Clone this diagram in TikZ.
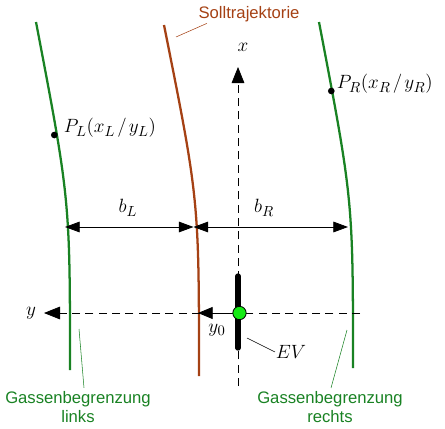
\documentclass[tikz,border=0pt]{standalone}
\usepackage{fontspec}
\setmainfont{Liberation Sans}
\usetikzlibrary{arrows.meta}

\definecolor{lanegreen}{RGB}{25,130,35}
\definecolor{pathbrown}{RGB}{165,65,20}
\definecolor{evgreen}{RGB}{20,235,20}

\tikzset{
  boundary/.style={lanegreen, line width=1.7pt},
  trajectory/.style={pathbrown, line width=1.7pt},
  axisline/.style={dash pattern=on 6pt off 4pt, line width=0.6pt, -{Triangle[length=12pt,width=9.5pt]}},
  dimline/.style={line width=0.6pt, {Triangle[length=11pt,width=8pt]}-{Triangle[length=11pt,width=8pt]}},
  leader/.style={line width=0.4pt},
  pointdot/.style={circle, fill=black, inner sep=0pt, minimum size=5pt},
  mathlabel/.style={inner sep=0.5pt, font=\fontsize{15.5}{18}\selectfont},
  textlabel/.style={align=center, inner sep=1pt, font=\fontsize{12.5}{14}\selectfont},
}

\begin{document}
\begin{tikzpicture}[x=0.75pt, y=-0.75pt]
    \useasboundingbox (0,0) rectangle (445,428);
    % Draw the lane boundaries and the reference path
    \draw[boundary] (36,22) .. controls (70,200) .. (70,370);
    \draw[trajectory] (164,25) .. controls (199,200) .. (199,376);
    \draw[boundary] (319,22) .. controls (353,200) .. (353,368);
    % Points on the boundaries
    \node[pointdot] (PL) at (54.3,135) {};
    \node[mathlabel, anchor=west] (PLlabel) at (63,128) {$P_L(x_L\mkern2mu/\mkern2mu y_L)$};
    \node[pointdot] (PR) at (331.3,91) {};
    \node[mathlabel, anchor=west] (PRlabel) at (336,84) {$P_R(x_R\mkern2mu/\mkern2mu y_R)$};
    % Draw the axes
    \coordinate (xbot) at (238,386);
    \coordinate (xtop) at (238,67);
    \coordinate (yright) at (360,313);
    \coordinate (yleft) at (44,313);
    \draw[axisline] (xbot) -- (xtop);
    \draw[axisline] (yright) -- (yleft);
    \node[mathlabel] (xlabel) at (243,47) {$x$};
    \node[mathlabel] (ylabel) at (31,313) {$y$};
    % Widths
    \coordinate (bleft) at (65,227);
    \coordinate (bmid) at (193.5,227);
    \coordinate (bright) at (348,227);
    \draw[dimline] (bleft) -- (bmid);
    \draw[dimline] (bmid) -- (bright);
    \node[mathlabel] (bL) at (128,208) {$b_L$};
    \node[mathlabel] (bR) at (264,208) {$b_R$};
    % Draw the vehicle
    \draw[line width=4pt, line cap=round] (238,276) -- (238,348);
    \node[circle, draw=black, line width=0.6pt, fill=evgreen, inner sep=0pt, minimum size=10pt] (EV) at (239.5,313) {};
    \coordinate (yzero) at (198,313);
    \draw[line width=0.6pt, -{Triangle[length=11pt,width=9pt]}] (EV) -- (yzero);
    \node[mathlabel] (y0label) at (217,330) {$y_0$};
    \node[mathlabel] (EVlabel) at (291,352) {$EV$};
    \coordinate (evfoot) at (247,338);
    \draw[leader] (evfoot) -- (EVlabel.west);
    % Labels with leader lines
    \node[textlabel, pathbrown] (solllabel) at (249,14) {Solltrajektorie};
    \coordinate (sollfoot) at (176,37);
    \draw[leader, pathbrown] (solllabel.south west) ++(10,0) -- (sollfoot);
    \node[textlabel, lanegreen] (leftlabel) at (78,407) {Gassenbegrenzung\\links};
    \coordinate (leftfoot) at (79,329);
    \draw[leader, lanegreen] (leftlabel.north) ++(6,-2) -- (leftfoot);
    \node[textlabel, lanegreen] (rightlabel) at (330,407) {Gassenbegrenzung\\rechts};
    \coordinate (rightfoot) at (347,330);
    \draw[leader, lanegreen] (rightlabel.north) ++(1,-2) -- (rightfoot);
\end{tikzpicture}
\end{document}
